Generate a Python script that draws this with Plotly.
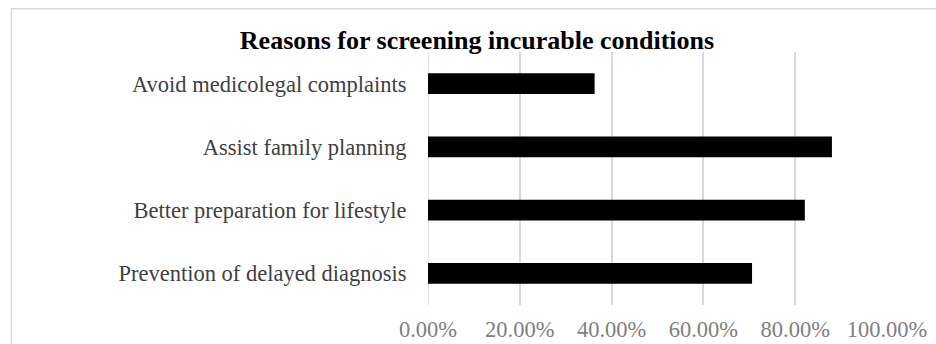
import plotly.graph_objects as go

categories = ["Prevention of delayed diagnosis", "Better preparation for lifestyle",
              "Assist family planning", "Avoid medicolegal complaints"]
values = [0.706, 0.821, 0.880, 0.363]
tick_vals = [0, 0.2, 0.4, 0.6, 0.8, 1.0]
tick_text = ["0.00%", "20.00%", "40.00%", "60.00%", "80.00%", "100.00%"]
title_text = "Reasons for screening incurable conditions"

W, H = 936, 344
fig = go.Figure(go.Bar(
    y=categories, x=values, orientation="h",
    marker=dict(color="#000000", line=dict(color="#000000", width=0)),
    width=0.33,
))

fig.update_layout(
    width=W, height=H,
    margin=dict(l=427.5, r=48.5, t=52, b=39, autoexpand=False),
    paper_bgcolor="white", plot_bgcolor="white",
    showlegend=False,
    font=dict(family="Liberation Serif", color="#595959", size=22),
    title=dict(text="<b>" + title_text + "</b>", x=477 / W, xanchor="center",
               y=1 - 40 / H, yanchor="middle",
               font=dict(family="Liberation Serif", size=26, color="#000000")),
    xaxis=dict(range=[0, 1.0], tickvals=tick_vals, ticktext=tick_text,
               showgrid=True, gridcolor="#d9d9d9", gridwidth=1.5,
               zeroline=False, showline=False, automargin=False,
               ticks="outside", ticklen=4, tickcolor="rgba(0,0,0,0)",
               tickfont=dict(size=22.5, color="#808080")),
    yaxis=dict(showgrid=False, zeroline=False, showline=False, automargin=False,
               ticks="outside", ticklen=16, tickcolor="rgba(0,0,0,0)",
               tickfont=dict(size=22.5, color="#404040")),
    shapes=[dict(type="rect", xref="paper", yref="paper",
                 x0=-417.5 / 460, x1=1.2, y0=-0.3, y1=1 + 43 / 252,
                 line=dict(color="#d9d9d9", width=1.5), layer="below")],
)
fig.add_vline(x=0, line=dict(color="#d9d9d9", width=1.5), layer="below")
fig.write_html("out.html")
